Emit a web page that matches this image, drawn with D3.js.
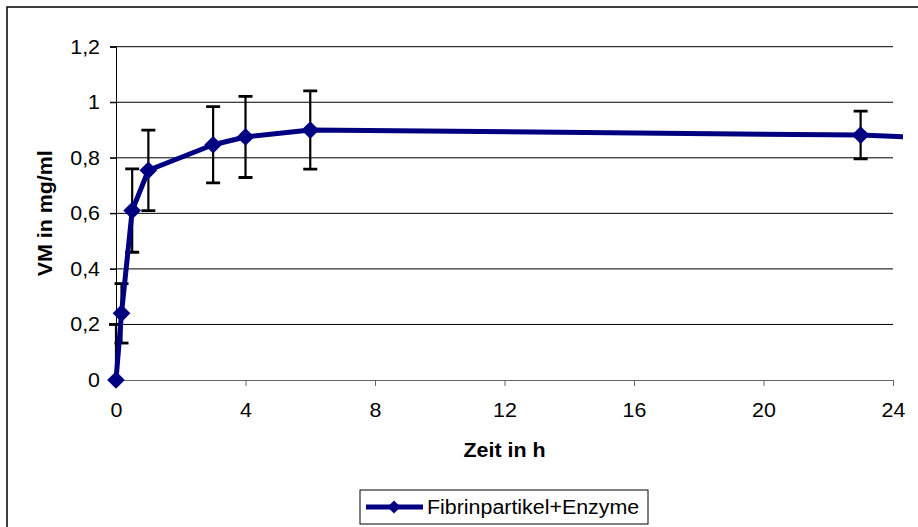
<!DOCTYPE html>
<html><head><meta charset="utf-8">
<script src="https://cdn.jsdelivr.net/npm/d3@7"></script>
<style>
body{margin:0;background:#fff;}
svg{display:block;font-family:"Liberation Sans",Arial,sans-serif;}
</style></head>
<body><svg id="c" width="918" height="527"></svg>
<script>
const times  = [0, 0.17, 0.5, 1, 3, 4, 6, 23, 48];
const values = [0, 0.24, 0.61, 0.755, 0.847, 0.875, 0.9, 0.882, 0.77];
const errors = [0.2, 0.107, 0.15, 0.145, 0.137, 0.146, 0.141, 0.086, 0.09];
const xTicks = [0, 4, 8, 12, 16, 20, 24];
const yTicks = [0, 0.2, 0.4, 0.6, 0.8, 1.0, 1.2];
const seriesName = "Fibrinpartikel+Enzyme";
const xTitle = "Zeit in h";
const yTitle = "VM in mg/ml";

const data = times.map((t,i)=>({t, v:values[i], e:errors[i]}));
const svg = d3.select("#c");
const L=116, R=893, T=46.7, B=380;
const x = d3.scaleLinear().domain([0,24]).range([L,R]);
const y = d3.scaleLinear().domain([0,1.2]).range([B,T]);
const fmt = d=> d3.format(".1f")(d).replace(/\.0$/,"").replace(".",",");
const navy="#000080";
const fs=20, sx=1.07;

// outer frame
svg.append("rect").attr("x",7).attr("y",7).attr("width",930).attr("height",540)
  .attr("fill","none").attr("stroke","#000").attr("stroke-width",1.5);

// gridlines
svg.append("g").selectAll("line").data(yTicks.filter(d=>d>0)).join("line")
  .attr("x1",L-6).attr("x2",R).attr("y1",d=>y(d)).attr("y2",d=>y(d))
  .attr("stroke","#000").attr("stroke-width",1);

// y axis
const ya = svg.append("g").attr("transform",`translate(${L},0)`)
  .call(d3.axisLeft(y).tickValues(yTicks).tickFormat(fmt).tickSize(6).tickPadding(9));
ya.select(".domain").attr("stroke","#000");
ya.selectAll("text").attr("font-size",fs).attr("fill","#000").attr("font-family","Liberation Sans, Arial")
  .attr("transform",`scale(${sx},1)`).attr("x",-16/sx);

// x axis
const xa = svg.append("g").attr("transform",`translate(0,${B})`)
  .call(d3.axisBottom(x).tickValues(xTicks).tickFormat(d=>d).tickSize(6).tickPadding(17).tickSizeOuter(6));
xa.select(".domain").attr("stroke","#666");
xa.selectAll(".tick line").attr("stroke","#666");
xa.selectAll("text").attr("font-size",fs).attr("fill","#000").attr("font-family","Liberation Sans, Arial")
  .attr("transform",`scale(${sx},1)`);

// titles
svg.append("text").attr("transform",`translate(${(L+R)/2},457) scale(${sx},1)`).attr("text-anchor","middle")
  .attr("font-size",fs).attr("font-weight","bold").text(xTitle);
svg.append("text").attr("transform",`translate(52,${(T+B)/2}) rotate(-90) scale(${sx},1)`).attr("text-anchor","middle")
  .attr("font-size",fs).attr("font-weight","bold").text(yTitle);

// clip
svg.append("clipPath").attr("id","pc").append("rect")
  .attr("x",0).attr("y",T).attr("width",x(24)+10).attr("height",B-T);
const g = svg.append("g").attr("clip-path","url(#pc)");

// error bars
const cw=7;
const eb = g.selectAll("g.eb").data(data).join("g");
eb.append("line").attr("x1",d=>x(d.t)).attr("x2",d=>x(d.t))
  .attr("y1",d=>y(d.v-d.e)).attr("y2",d=>y(d.v+d.e)).attr("stroke","#000").attr("stroke-width",2.2);
eb.append("line").attr("x1",d=>x(d.t)-cw).attr("x2",d=>x(d.t)+cw)
  .attr("y1",d=>y(d.v+d.e)).attr("y2",d=>y(d.v+d.e)).attr("stroke","#000").attr("stroke-width",2.8);
eb.append("line").attr("x1",d=>x(d.t)-cw).attr("x2",d=>x(d.t)+cw)
  .attr("y1",d=>y(d.v-d.e)).attr("y2",d=>y(d.v-d.e)).attr("stroke","#000").attr("stroke-width",2.8);

// line
g.append("path").datum(data)
  .attr("d",d3.line().x(d=>x(d.t)).y(d=>y(d.v)))
  .attr("fill","none").attr("stroke",navy).attr("stroke-width",5).attr("stroke-linejoin","round");

// markers
const sym = d3.symbol().type(d3.symbolDiamond2).size(200);
svg.append("g").selectAll("path").data(data.filter(d=>d.t<=24)).join("path")
  .attr("d",sym).attr("transform",d=>`translate(${x(d.t)},${y(d.v)})`)
  .attr("fill",navy);

// legend
const lg = svg.append("g");
lg.append("rect").attr("x",360).attr("y",490).attr("width",288).attr("height",34)
  .attr("fill","#fff").attr("stroke","#000").attr("stroke-width",1);
lg.append("line").attr("x1",366).attr("x2",423).attr("y1",507).attr("y2",507)
  .attr("stroke",navy).attr("stroke-width",5);
lg.append("path").attr("d",d3.symbol().type(d3.symbolDiamond2).size(110)).attr("transform","translate(394,507)").attr("fill",navy);
lg.append("text").attr("transform",`translate(427,514) scale(${sx},1)`).attr("font-size",fs).text(seriesName);
</script></body></html>
